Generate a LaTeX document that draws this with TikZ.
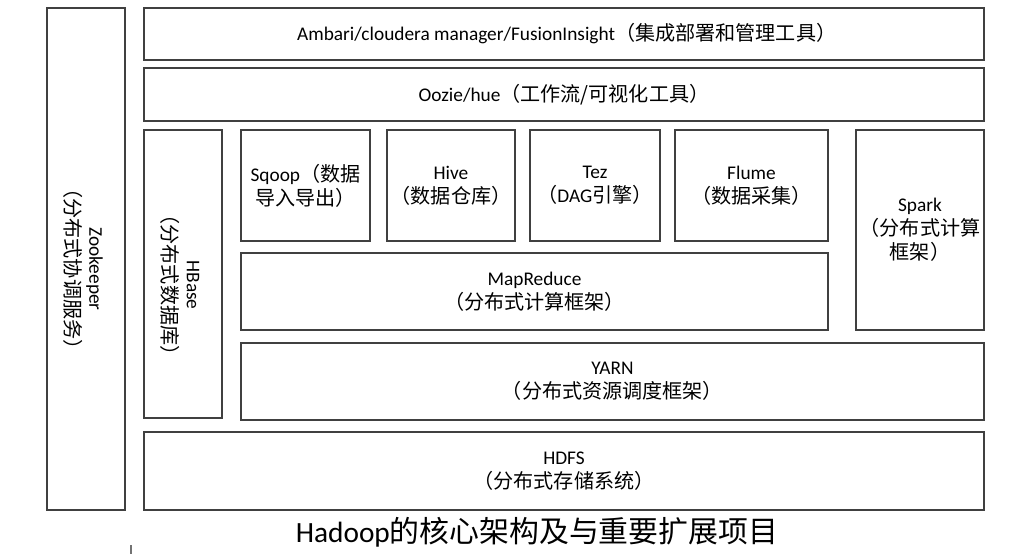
\documentclass[tikz,border=0pt]{standalone}
\usepackage{fontspec}
\setmainfont{Carlito}
\newfontfamily\cjk[Scale=1.04]{Noto Sans CJK SC}
\newfontfamily\cjkcap{Noto Sans CJK SC}
\newcommand{\zh}[1]{{\cjk #1}}
\usetikzlibrary{fit}

\begin{document}
\begin{tikzpicture}[x=0.75pt,y=-0.75pt,
  blk/.style={draw=black!75, line width=0.9pt, inner sep=0pt},
  txt/.style={align=center, inner sep=0pt, font=\fontsize{14.5}{18}\selectfont},
  vtxt/.style={txt, rotate=-90}]

% Canvas
\useasboundingbox (0,0) rectangle (1032,554);

% Left column: Zookeeper
\node[blk, fit={(47,8) (125,510)}] (zk) {};
\node[vtxt] (zktxt) at (83,269) {Zookeeper\\\zh{（分布式协调服务）}};

% Management rows
\node[blk, fit={(144,8) (984,60)}] (ambari) {};
\node[txt] (ambaritxt) at ([xshift=2]ambari.center) {Ambari/cloudera manager/FusionInsight\zh{（集成部署和管理工具）}};
\node[blk, fit={(144,68) (984,121)}] (oozie) {};
\node[txt] (oozietxt) at (oozie) {Oozie/hue\zh{（工作流/可视化工具）}};

% HBase column
\node[blk, fit={(144,130) (222,418)}] (hbase) {};
\node[vtxt] (hbasetxt) at (180,285) {HBase\\\zh{（分布式数据库）}};

% Tools on top of MapReduce
\node[blk, fit={(241,130) (370,241)}] (sqoop) {};
\node[txt] (sqooptxt) at (sqoop) {Sqoop\zh{（数据}\\\zh{导入导出）}};
\node[blk, fit={(387,130) (515,241)}] (hive) {};
\node[txt] (hivetxt) at (hive) {Hive\\\zh{（数据仓库）}};
\node[blk, fit={(530,130) (660,241)}] (tez) {};
\node[txt] (teztxt) at (tez) {Tez\\\zh{（}DAG\zh{引擎）}};
\node[blk, fit={(675,130) (828,241)}] (flume) {};
\node[txt] (flumetxt) at (flume) {Flume\\\zh{（数据采集）}};
\node[blk, fit={(856,130) (984,330)}] (spark) {};
\node[txt] (sparktxt) at (spark) {Spark\\\zh{（分布式计算}\\\zh{框架）}};

% Core layers
\node[blk, fit={(241,253) (828,330)}] (mr) {};
\node[txt] (mrtxt) at (mr) {MapReduce\\\zh{（分布式计算框架）}};
\node[blk, fit={(241,343) (984,420)}] (yarn) {};
\node[txt] (yarntxt) at (yarn) {YARN\\\zh{（分布式资源调度框架）}};
\node[blk, fit={(144,432) (984,510)}] (hdfs) {};
\node[txt] (hdfstxt) at (hdfs) {HDFS\\\zh{（分布式存储系统）}};

% Caption
\node[inner sep=0pt] (title) at (537,532) {\fontsize{22}{26}\selectfont Hadoop{\cjkcap\fontsize{22.4}{26}\selectfont 的核心架构及与重要扩展项目}};

% Small mark below
\coordinate (tick) at (131,545);
\draw[black!55, line width=1.5pt] (tick) -- ++(0,9);

\end{tikzpicture}
\end{document}
